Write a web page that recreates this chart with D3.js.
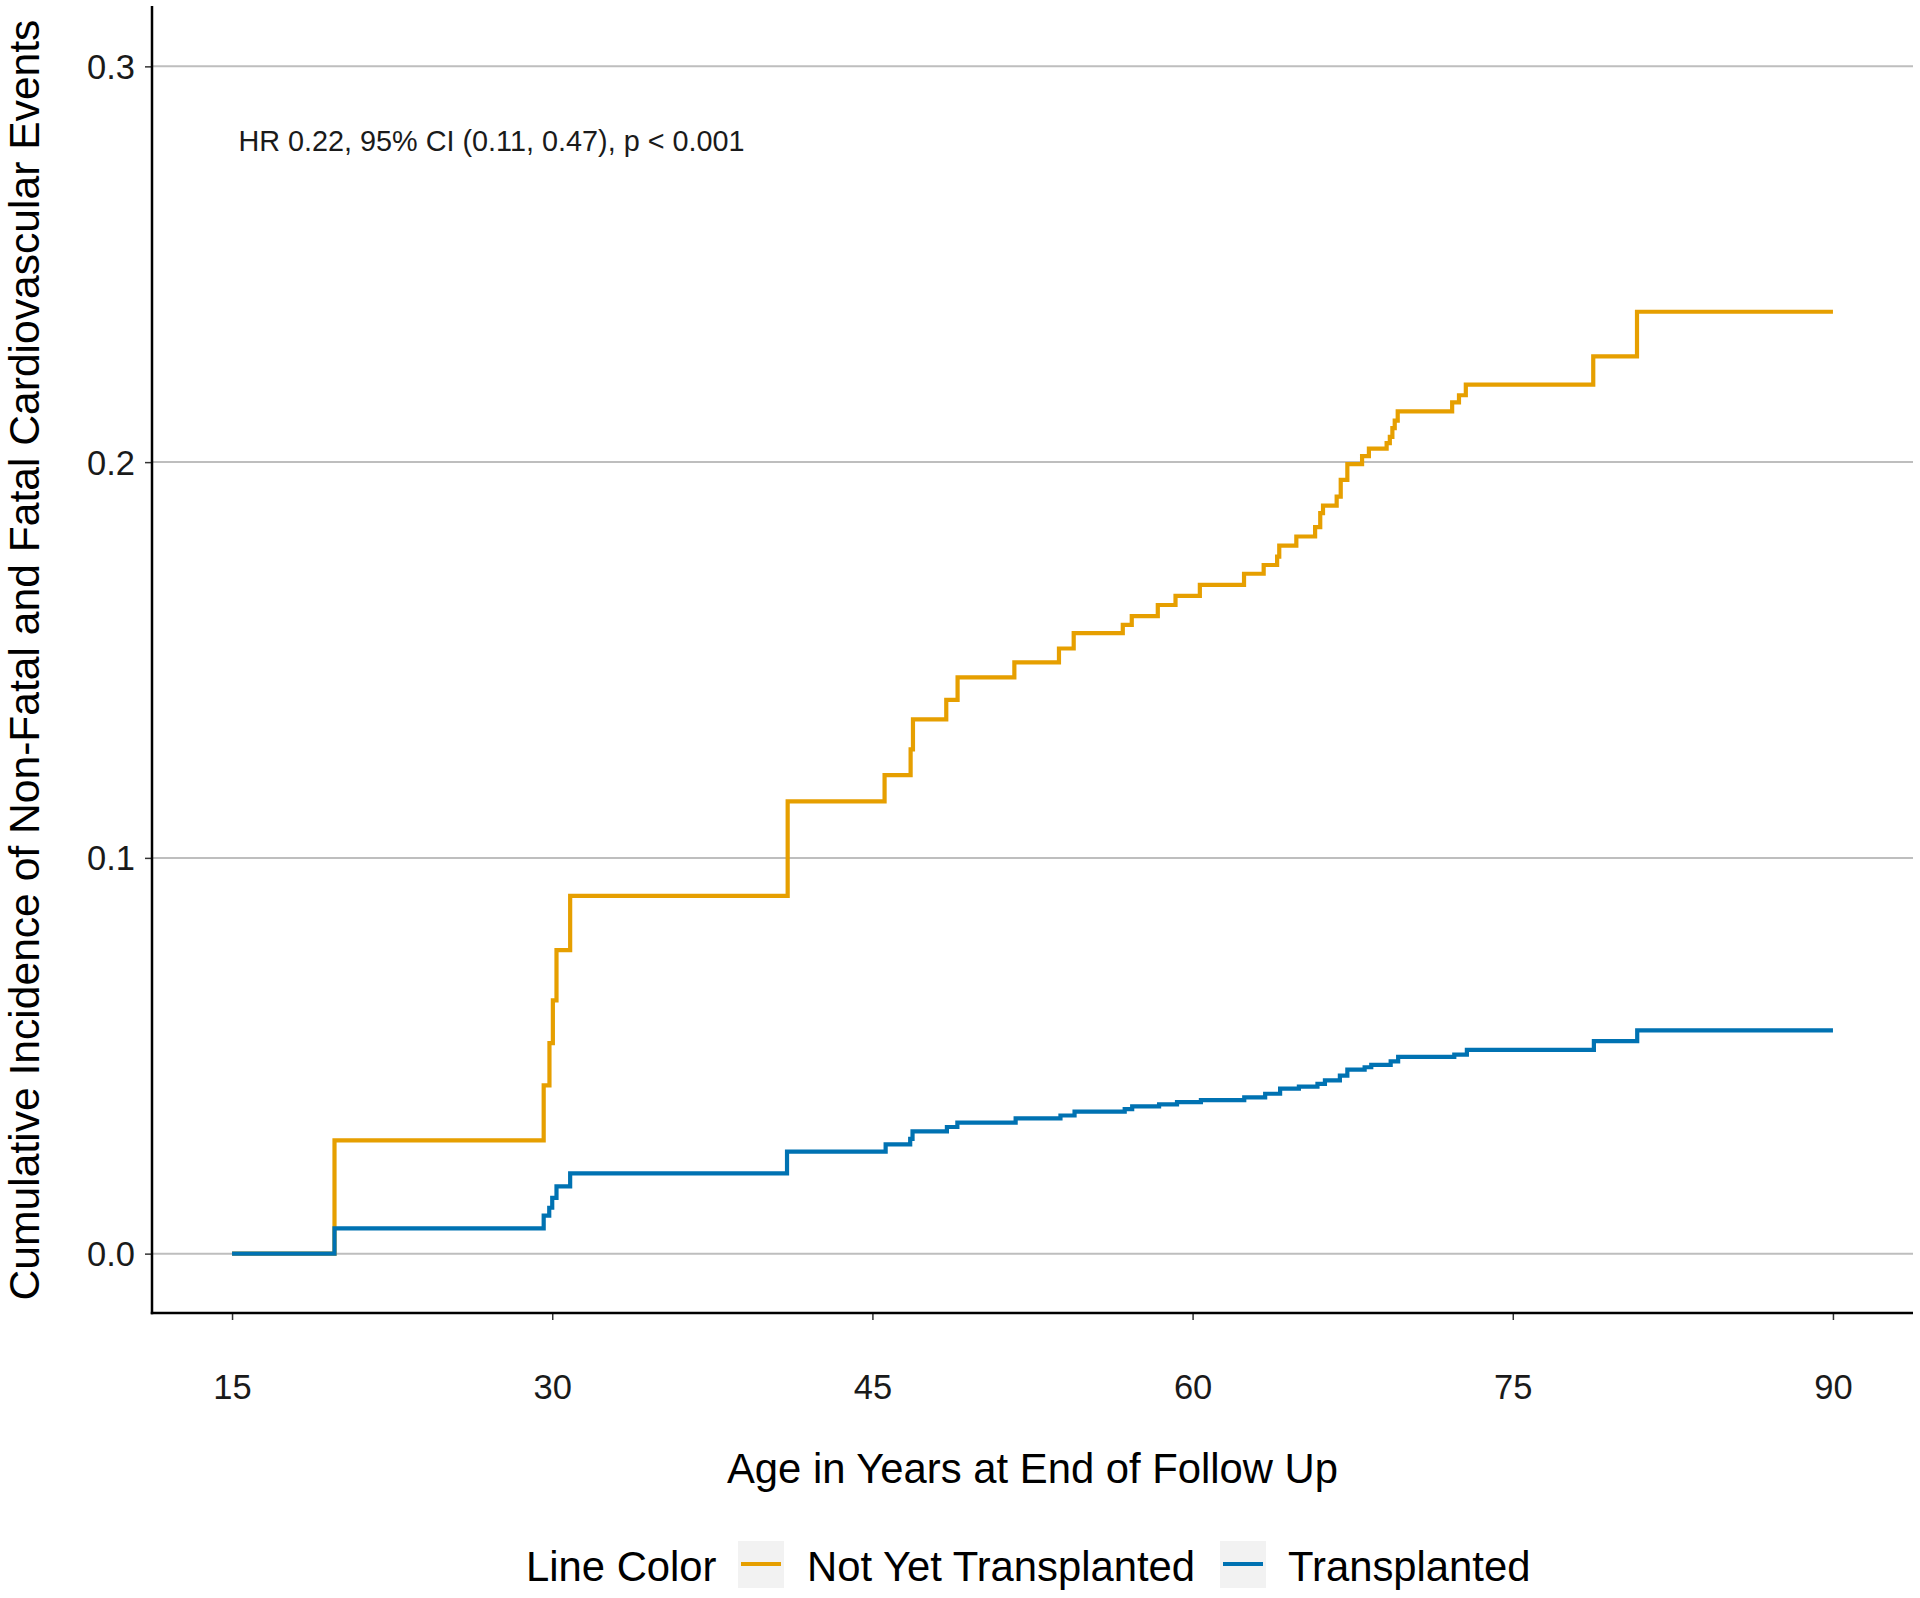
<!DOCTYPE html>
<html>
<head>
<meta charset="utf-8">
<script src="https://cdn.jsdelivr.net/npm/d3@7/dist/d3.min.js"></script>
<style>
  html, body { margin: 0; padding: 0; background: #ffffff; }
  svg { display: block; font-family: "Liberation Sans", Arial, Helvetica, sans-serif; }
</style>
</head>
<body>
<svg id="chart" width="1920" height="1598"></svg>
<script>
// ---------------- data ----------------
const seriesNames = ["Not Yet Transplanted", "Transplanted"];
const seriesColors = ["#E69F00", "#0072B2"];

const agesNotYet = [15, 19.8, 29.6, 29.87, 30.03, 30.2, 30.84, 41.03, 45.57, 46.79, 46.9, 48.46, 48.99,
  51.65, 53.74, 54.43, 56.73, 57.15, 58.37, 59.2, 60.34, 62.41, 63.33, 63.96, 64.06, 64.86,
  65.74, 65.98, 66.11, 66.75, 66.94, 67.25, 67.94, 68.26, 69.09, 69.24, 69.36, 69.47, 69.61,
  72.16, 72.48, 72.8, 78.77, 80.82, 90];
const cifNotYet = [0, 0.0286, 0.0425, 0.0532, 0.064, 0.0767, 0.0904, 0.1143, 0.1209, 0.1274, 0.135, 0.1399, 0.1456,
  0.1494, 0.1529, 0.1568, 0.1589, 0.1611, 0.1639, 0.1662, 0.169, 0.1718, 0.174, 0.1761, 0.1789, 0.1812,
  0.1836, 0.1871, 0.189, 0.1913, 0.1955, 0.1995, 0.2015, 0.2034, 0.2048, 0.2064, 0.2086, 0.2105, 0.2128,
  0.2151, 0.2169, 0.2196, 0.2267, 0.238, 0.238];

const agesTransplanted = [15, 19.8, 29.6, 29.86, 30.0, 30.2, 30.84, 41.0, 45.62, 46.77, 46.88, 48.49, 48.98,
  51.71, 53.81, 54.47, 56.82, 57.17, 58.43, 59.27, 60.39, 62.42, 63.4, 64.1, 64.98, 65.85,
  66.2, 66.9, 67.25, 68.06, 68.37, 69.28, 69.63, 72.26, 72.85, 78.8, 80.83, 90];
const cifTransplanted = [0, 0.0064, 0.0096, 0.0116, 0.0141, 0.017, 0.0203, 0.0258, 0.0276, 0.029, 0.0309, 0.032, 0.0331,
  0.0342, 0.0349, 0.0359, 0.0365, 0.0372, 0.0377, 0.0383, 0.0388, 0.0395, 0.0404, 0.0417, 0.0422, 0.0429,
  0.0438, 0.045, 0.0465, 0.0471, 0.0477, 0.0486, 0.0497, 0.0503, 0.0515, 0.0537, 0.0564, 0.0564];

const xTicks = [15, 30, 45, 60, 75, 90];
const yTicks = [0.0, 0.1, 0.2, 0.3];
const xTitle = "Age in Years at End of Follow Up";
const yTitle = "Cumulative Incidence of Non-Fatal and Fatal Cardiovascular Events";
const annotation = "HR 0.22, 95% CI (0.11, 0.47), p < 0.001";
const legendTitle = "Line Color";

// ---------------- layout ----------------
const svg = d3.select("#chart");
const panel = { left: 152, right: 1913, top: 7, bottom: 1313 };

const x = d3.scaleLinear().domain([11.25, 93.75]).range([panel.left, panel.right]);
const y = d3.scaleLinear().domain([-0.015, 0.315]).range([panel.bottom, panel.top]);

// gridlines (major y)
svg.append("g").selectAll("line").data(yTicks).join("line")
  .attr("x1", panel.left).attr("x2", panel.right)
  .attr("y1", d => y(d)).attr("y2", d => y(d))
  .attr("stroke", "#BEBEBE").attr("stroke-width", 2);

// lines
const series = [
  { name: seriesNames[0], color: seriesColors[0], pts: agesNotYet.map((a, i) => [a, cifNotYet[i]]) },
  { name: seriesNames[1], color: seriesColors[1], pts: agesTransplanted.map((a, i) => [a, cifTransplanted[i]]) }
];
const line = d3.line().x(d => x(d[0])).y(d => y(d[1])).curve(d3.curveStepAfter);
svg.append("g").selectAll("path").data(series).join("path")
  .attr("d", d => line(d.pts))
  .attr("fill", "none")
  .attr("stroke", d => d.color)
  .attr("stroke-width", 4.2)
  .attr("stroke-linejoin", "miter")
  .attr("stroke-linecap", "butt");

// axes
const xAxis = svg.append("g").attr("transform", `translate(0,${panel.bottom})`)
  .call(d3.axisBottom(x).tickValues(xTicks).tickSize(7).tickPadding(0).tickFormat(d3.format("d")));
xAxis.select(".domain").remove();
xAxis.selectAll(".tick line").attr("stroke", "#333").attr("stroke-width", 1.5);
xAxis.selectAll(".tick text").attr("font-size", 34.5).attr("fill", "#1a1a1a")
  .attr("font-family", "Liberation Sans, Arial, sans-serif").attr("dy", null).attr("y", 86);

const yAxis = svg.append("g").attr("transform", `translate(${panel.left},0)`)
  .call(d3.axisLeft(y).tickValues(yTicks).tickSize(7).tickPadding(10).tickFormat(d3.format(".1f")));
yAxis.select(".domain").remove();
yAxis.selectAll(".tick line").attr("stroke", "#333").attr("stroke-width", 1.5);
yAxis.selectAll(".tick text").attr("font-size", 34.5).attr("fill", "#1a1a1a")
  .attr("font-family", "Liberation Sans, Arial, sans-serif").attr("dy", "0.35em");

// axis lines
svg.append("line").attr("x1", panel.left).attr("x2", panel.left)
  .attr("y1", panel.top - 1).attr("y2", panel.bottom + 1.25)
  .attr("stroke", "#000").attr("stroke-width", 2.5);
svg.append("line").attr("x1", panel.left - 1.25).attr("x2", panel.right)
  .attr("y1", panel.bottom).attr("y2", panel.bottom)
  .attr("stroke", "#000").attr("stroke-width", 2.5);

// annotation
svg.append("text").attr("x", x(15.3)).attr("y", 151)
  .attr("font-size", 28.8).attr("fill", "#1a1a1a").text(annotation);

// axis titles
svg.append("text").attr("x", (panel.left + panel.right) / 2).attr("y", 1483)
  .attr("text-anchor", "middle").attr("font-size", 41.8).attr("fill", "#000").text(xTitle);
svg.append("text")
  .attr("transform", `translate(39,${(panel.top + panel.bottom) / 2}) rotate(-90)`)
  .attr("text-anchor", "middle").attr("font-size", 42.6).attr("fill", "#000").text(yTitle);

// legend
const legend = svg.append("g");
legend.append("text").attr("x", 526).attr("y", 1581).attr("font-size", 41.8).attr("fill", "#000").text(legendTitle);
const legendItems = [
  { keyX: 738, textX: 807, s: series[0] },
  { keyX: 1220, textX: 1288, s: series[1] }
];
const li = legend.selectAll("g.item").data(legendItems).join("g").attr("class", "item");
li.append("rect").attr("x", d => d.keyX).attr("y", 1541).attr("width", 46).attr("height", 47)
  .attr("fill", "#F2F2F2");
li.append("line").attr("x1", d => d.keyX + 3).attr("x2", d => d.keyX + 43)
  .attr("y1", 1564).attr("y2", 1564)
  .attr("stroke", d => d.s.color).attr("stroke-width", 4.2);
li.append("text").attr("x", d => d.textX).attr("y", 1581).attr("font-size", 41.8).attr("fill", "#000")
  .text(d => d.s.name);
</script>
</body>
</html>
